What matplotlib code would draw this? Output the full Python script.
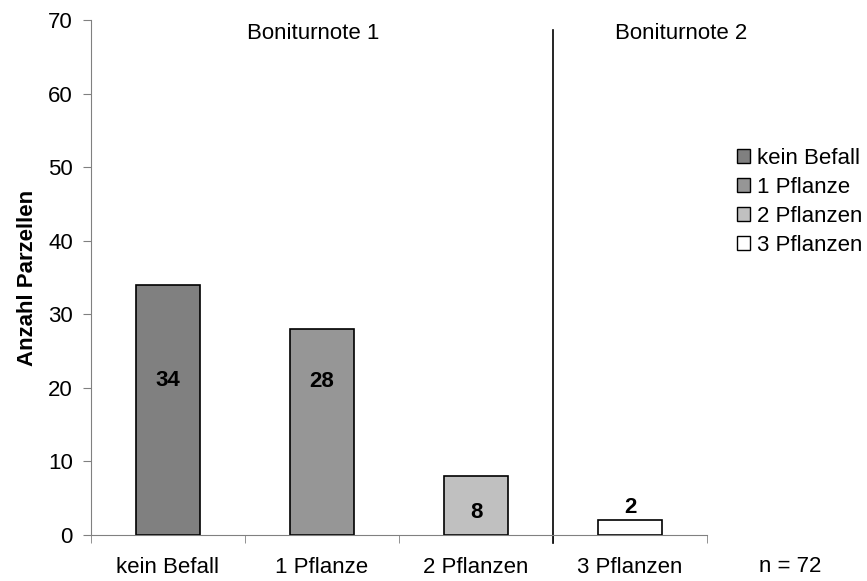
import matplotlib.pyplot as plt
import numpy as np

plt.rcParams['font.family'] = ['Liberation Sans', 'DejaVu Sans']

categories = ['kein Befall', '1 Pflanze', '2 Pflanzen', '3 Pflanzen']
values = [34, 28, 8, 2]
colors = ['#808080', '#969696', '#c0c0c0', '#ffffff']
label_y = [21, 20.8, 3.0, 3.7]
groups = ['Boniturnote 1', 'Boniturnote 2']

FS = 16

fig = plt.figure(figsize=(8.67, 5.81), dpi=100)
ax = fig.add_axes([91 / 867, 46 / 581, 616 / 867, 515 / 581])

x = np.arange(len(categories))
ax.bar(x, values, width=0.41, color=colors, edgecolor='black', linewidth=1.2)

for xi, v, ly in zip(x, values, label_y):
    ax.text(xi, ly, str(v), ha='center', va='center', fontsize=FS, fontweight='bold')

ax.set_xlim(-0.5, 3.5)
ax.set_ylim(0, 70)
ax.set_yticks(range(0, 71, 10))
ax.set_xticks(x)
ax.set_xticklabels(categories, fontsize=FS)
ax.set_xticks(np.arange(-0.5, 4, 1), minor=True)
ax.tick_params(axis='x', which='major', length=0, pad=16)
ax.tick_params(axis='x', which='minor', length=6, color='#808080', direction='out')
ax.tick_params(axis='y', labelsize=FS, length=6, color='#808080', direction='out', pad=7)
for s in ['top', 'right']:
    ax.spines[s].set_visible(False)
for s in ['left', 'bottom']:
    ax.spines[s].set_color('#808080')
ax.set_ylabel('Anzahl Parzellen', fontsize=FS, fontweight='bold', labelpad=7)

# divider between the two groups
ax.plot([2.5, 2.5], [-1.1, 68.6], color='black', linewidth=1.2, clip_on=False)
ax.text(0.94, 68.2, groups[0], ha='center', va='center', fontsize=FS)
ax.text(3.33, 68.2, groups[1], ha='center', va='center', fontsize=FS)

handles = [plt.Rectangle((0, 0), 1, 1, facecolor=c, edgecolor='black', linewidth=1)
           for c in colors]
fig.legend(handles, categories, loc='upper left', bbox_to_anchor=(737 / 867, 1 - 148 / 581),
           frameon=False, fontsize=FS, handlelength=0.58, handleheight=0.58,
           handletextpad=0.3, labelspacing=0.36, borderaxespad=0, borderpad=0)

fig.text(790 / 867, 1 - 566 / 581, 'n = 72', ha='center', va='center', fontsize=FS)

fig.savefig('out.png', dpi=100)
